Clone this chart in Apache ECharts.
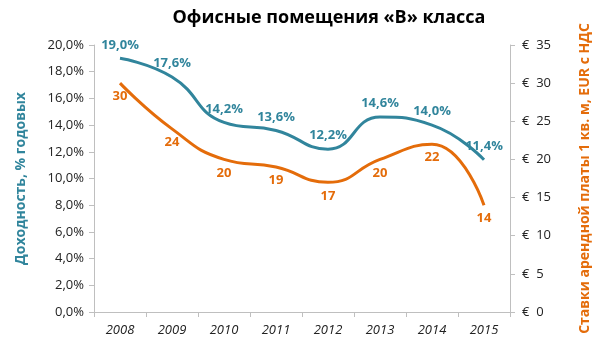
<!DOCTYPE html>
<html><head><meta charset="utf-8">
<script src="https://cdn.jsdelivr.net/npm/echarts@6/dist/echarts.min.js"></script>
<style>html,body{margin:0;padding:0;background:#fff}#c{width:600px;height:362px}</style>
</head><body><div id="c"></div>
<script>
const years = ['2008','2009','2010','2011','2012','2013','2014','2015'];
const yieldPct = [19.0, 17.6, 14.2, 13.6, 12.2, 14.6, 14.0, 11.4];
const rentEur = [30, 24, 20, 19, 17, 20, 22, 14];
const teal = '#31859c';
const orange = '#e46c0a';
const font = '"Open Sans", "Noto Sans", sans-serif';
const chart = echarts.init(document.getElementById('c'));
chart.setOption({
  animation: false,
  textStyle: {fontFamily: font},
  title: {text: 'Офисные помещения «B» класса', left: 324, textAlign: 'center', top: 4,
    textStyle: {fontSize: 18, fontWeight: 'bold', color: '#000', fontFamily: font}},
  grid: {left: 94, right: 85, top: 45, bottom: 50, containLabel: false},
  xAxis: {type: 'category', data: years, boundaryGap: true,
    axisLine: {lineStyle: {color: '#bfbfbf'}},
    axisTick: {show: true, interval: 0, alignWithLabel: false, length: 5, lineStyle: {color: '#bfbfbf'}},
    axisLabel: {fontStyle: 'italic', fontSize: 13, color: '#222', margin: 12, fontFamily: font}},
  yAxis: [
    {type: 'value', min: 0, max: 20, interval: 2, position: 'left',
     name: 'Доходность, % годовых', nameLocation: 'middle', nameRotate: 90, nameGap: 66,
     nameTextStyle: {color: teal, fontWeight: 'bold', fontSize: 14, fontFamily: font},
     axisLine: {show: true, lineStyle: {color: '#bfbfbf'}},
     axisTick: {show: true, length: 5, lineStyle: {color: '#bfbfbf'}},
     splitLine: {show: false},
     axisLabel: {fontSize: 13, color: '#222', margin: 10, fontFamily: font,
       formatter: v => v.toFixed(1).replace('.', ',') + '%'}},
    {type: 'value', min: 0, max: 35, interval: 5, position: 'right',
     name: 'Ставки арендной платы 1 кв. м, EUR с НДС', nameLocation: 'middle', nameRotate: 90, nameGap: 68,
     nameTextStyle: {color: orange, fontWeight: 'bold', fontSize: 14, fontFamily: font},
     axisLine: {show: true, lineStyle: {color: '#bfbfbf'}},
     axisTick: {show: true, length: 5, lineStyle: {color: '#bfbfbf'}},
     splitLine: {show: false},
     axisLabel: {fontSize: 13, color: '#222', margin: 12, fontFamily: font,
       formatter: v => '€  ' + v}}
  ],
  series: [
    {type: 'line', name: 'Доходность', data: yieldPct, yAxisIndex: 0, smooth: 0.5,
     symbol: 'circle', symbolSize: 2, showSymbol: true, lineStyle: {color: teal, width: 3},
     itemStyle: {color: 'rgba(0,0,0,0)', borderWidth: 0},
     label: {show: true, position: 'top', distance: 6, color: teal, fontWeight: 'bold', fontSize: 13, fontFamily: font,
       formatter: p => p.value.toFixed(1).replace('.', ',') + '%'}},
    {type: 'line', name: 'Ставки', data: rentEur, yAxisIndex: 1, smooth: 0.5,
     symbol: 'circle', symbolSize: 2, showSymbol: true, lineStyle: {color: orange, width: 3},
     itemStyle: {color: 'rgba(0,0,0,0)', borderWidth: 0},
     label: {show: true, position: 'bottom', distance: 6, color: orange, fontWeight: 'bold', fontSize: 13, fontFamily: font}}
  ]
});
</script></body></html>
